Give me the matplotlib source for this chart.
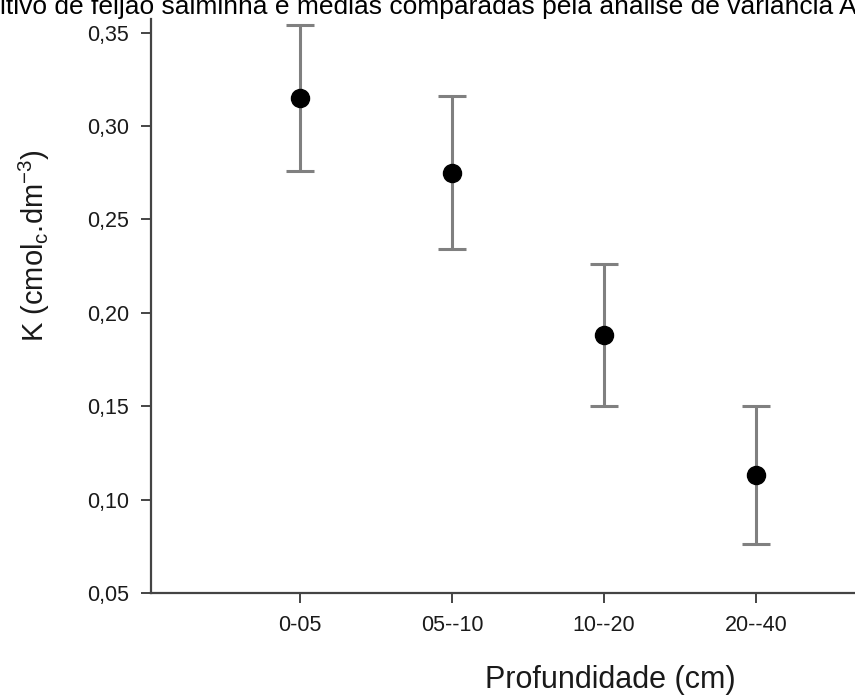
import matplotlib
matplotlib.use("Agg")
import matplotlib.pyplot as plt

plt.rcParams['font.family'] = ['Liberation Sans', 'DejaVu Sans']

# --------------------- Data ---------------------
depths = ['0-05', '05--10', '10--20', '20--40']
k_mean = [0.315, 0.275, 0.188, 0.113]
k_err = [0.039, 0.041, 0.038, 0.037]

title_text = 'itivo de feijão salminha e médias comparadas pela análise de variância A'

# --------------------- Plot ---------------------
fig = plt.figure(figsize=(8.55, 6.98), dpi=100)
ax = fig.add_axes([0.1766, 0.1504, 1.074, 0.977])

x = list(range(len(depths)))
ax.errorbar(x, k_mean, yerr=k_err, fmt='o', color='black', markersize=13,
            ecolor='#808080', elinewidth=2.2, capsize=10, capthick=2.2, zorder=3)

ax.set_xlim(-0.98, 5.06)
ax.set_ylim(0.05, 0.415)
ax.set_xticks(x)
ax.set_xticklabels(depths)
yt = [0.05, 0.10, 0.15, 0.20, 0.25, 0.30, 0.35]
ax.set_yticks(yt)
ax.set_yticklabels([f'{v:.2f}'.replace('.', ',') for v in yt])

for s in ['top', 'right']:
    ax.spines[s].set_visible(False)
for s in ['left', 'bottom']:
    ax.spines[s].set_color('#444444')
    ax.spines[s].set_linewidth(1.6)
ax.spines['left'].set_bounds(0.05, 0.357)

ax.tick_params(axis='both', direction='out', length=7, width=1.4, color='#444444',
               labelsize=15.5, labelcolor='#1a1a1a', pad=9)

ax.set_xlabel('Profundidade (cm)', fontsize=22, color='#1a1a1a')
ax.xaxis.set_label_coords(0.5, -0.105)
ax.set_ylabel(r'K (cmol$_\mathregular{c}$.dm$^\mathregular{-3}$)', fontsize=21, color='#1a1a1a')
ax.yaxis.set_label_coords(-0.108, 0.509)

fig.text(0.0, 1 - 14 / 698, title_text, fontsize=19, ha='left', va='baseline', color='black')

fig.savefig('out.png', dpi=100)
